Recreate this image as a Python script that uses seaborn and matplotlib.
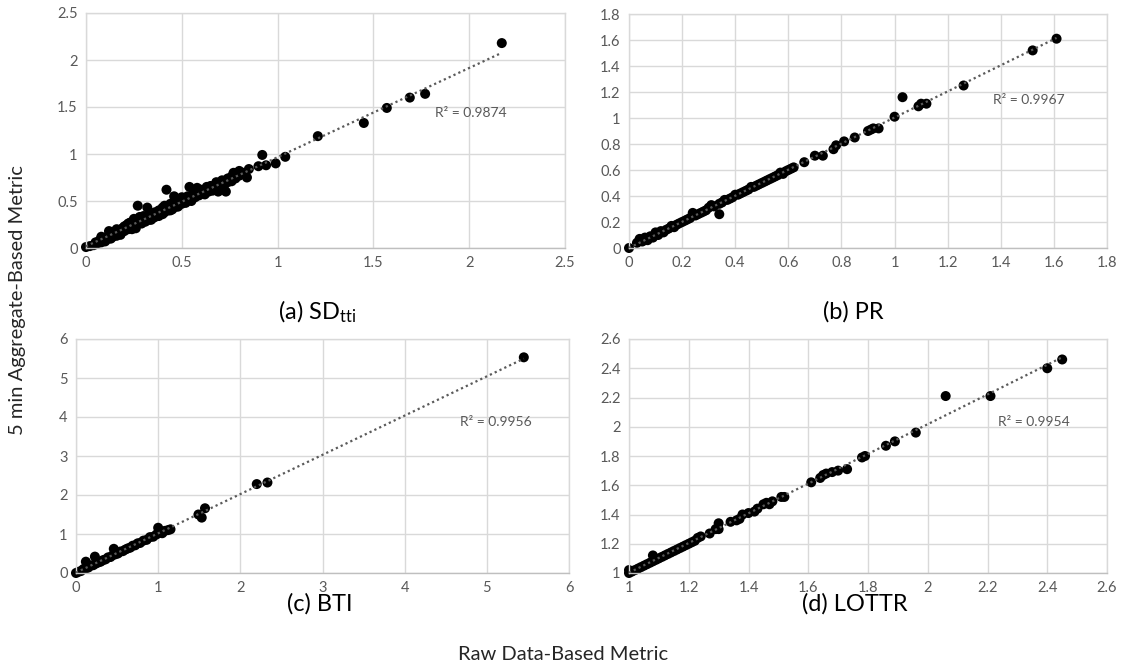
import numpy as np
import pandas as pd
import matplotlib
matplotlib.use("Agg")
import matplotlib.pyplot as plt
import seaborn as sns

# (a) SDtti
sd_raw = [0.00, 0.02, 0.04, 0.05, 0.06, 0.07, 0.08, 0.09, 0.10, 0.11, 0.12, 0.12, 0.13, 0.14,
          0.15, 0.16, 0.17, 0.18, 0.19, 0.20, 0.21, 0.22, 0.23, 0.24, 0.25, 0.26, 0.27, 0.27,
          0.28, 0.29, 0.30, 0.31, 0.32, 0.32, 0.33, 0.34, 0.35, 0.36, 0.37, 0.38, 0.39, 0.40,
          0.41, 0.42, 0.42, 0.43, 0.44, 0.45, 0.46, 0.46, 0.47, 0.48, 0.50, 0.51, 0.52, 0.53,
          0.54, 0.55, 0.56, 0.57, 0.58, 0.59, 0.60, 0.62, 0.63, 0.64, 0.65, 0.67, 0.68, 0.69,
          0.70, 0.71, 0.72, 0.73, 0.74, 0.76, 0.77, 0.78, 0.80, 0.82, 0.84, 0.85, 0.90, 0.92,
          0.94, 0.99, 1.04, 1.21, 1.45, 1.57, 1.69, 1.77, 2.17,
          0.08, 0.10, 0.14, 0.16, 0.18, 0.22, 0.26, 0.30, 0.34, 0.38, 0.40, 0.44, 0.48, 0.50,
          0.55, 0.58, 0.62, 0.66, 0.70, 0.74, 0.76, 0.80,
          0.13, 0.20, 0.24, 0.28, 0.36, 0.41, 0.45, 0.52]
sd_agg = [0.01, 0.02, 0.03, 0.06, 0.05, 0.08, 0.06, 0.10, 0.09, 0.12, 0.18, 0.10, 0.14, 0.12,
          0.16, 0.13, 0.19, 0.17, 0.21, 0.18, 0.24, 0.20, 0.27, 0.22, 0.31, 0.24, 0.45, 0.27,
          0.33, 0.26, 0.30, 0.28, 0.43, 0.33, 0.30, 0.36, 0.32, 0.38, 0.34, 0.40, 0.36, 0.43,
          0.38, 0.62, 0.44, 0.40, 0.47, 0.42, 0.55, 0.48, 0.44, 0.50, 0.47, 0.52, 0.49, 0.55,
          0.65, 0.52, 0.58, 0.54, 0.60, 0.56, 0.62, 0.58, 0.65, 0.60, 0.66, 0.63, 0.70, 0.60,
          0.68, 0.72, 0.66, 0.60, 0.74, 0.76, 0.80, 0.74, 0.82, 0.80, 0.75, 0.84, 0.87, 0.99,
          0.88, 0.90, 0.97, 1.19, 1.33, 1.49, 1.60, 1.64, 2.18,
          0.12, 0.07, 0.17, 0.20, 0.14, 0.26, 0.21, 0.34, 0.30, 0.34, 0.36, 0.40, 0.44, 0.54,
          0.50, 0.64, 0.57, 0.61, 0.65, 0.70, 0.71, 0.77,
          0.10, 0.23, 0.20, 0.32, 0.33, 0.45, 0.41, 0.48]

# (b) PR
pr_raw = [0.00, 0.03, 0.04, 0.05, 0.06, 0.07, 0.08, 0.09, 0.10, 0.11, 0.12, 0.13, 0.14, 0.15,
          0.16, 0.17, 0.18, 0.19, 0.20, 0.21, 0.22, 0.23, 0.24, 0.25, 0.26, 0.27, 0.28, 0.29,
          0.30, 0.31, 0.32, 0.34, 0.34, 0.35, 0.36, 0.37, 0.38, 0.39, 0.40, 0.41, 0.42, 0.43,
          0.44, 0.45, 0.46, 0.47, 0.48, 0.49, 0.50, 0.51, 0.52, 0.53, 0.54, 0.55, 0.56, 0.57,
          0.58, 0.59, 0.60, 0.61, 0.62, 0.66, 0.70, 0.73, 0.77, 0.78, 0.81, 0.85, 0.90, 0.91,
          0.92, 0.94, 1.00, 1.03, 1.09, 1.10, 1.12, 1.26, 1.52, 1.61]
pr_agg = [0.00, 0.04, 0.07, 0.05, 0.08, 0.06, 0.09, 0.08, 0.12, 0.10, 0.13, 0.12, 0.14, 0.15,
          0.17, 0.16, 0.18, 0.19, 0.20, 0.21, 0.22, 0.23, 0.27, 0.25, 0.26, 0.27, 0.28, 0.29,
          0.31, 0.33, 0.32, 0.26, 0.34, 0.35, 0.37, 0.37, 0.38, 0.39, 0.41, 0.41, 0.42, 0.43,
          0.44, 0.45, 0.47, 0.47, 0.48, 0.49, 0.50, 0.51, 0.52, 0.53, 0.54, 0.55, 0.56, 0.58,
          0.57, 0.59, 0.60, 0.61, 0.62, 0.66, 0.71, 0.71, 0.76, 0.79, 0.82, 0.85, 0.90, 0.91,
          0.92, 0.92, 1.01, 1.16, 1.09, 1.11, 1.11, 1.25, 1.52, 1.61]

# (c) BTI
bti_raw = [0.00, 0.03, 0.06, 0.09, 0.12, 0.12, 0.15, 0.18, 0.21, 0.23, 0.24, 0.27, 0.30, 0.33,
           0.36, 0.39, 0.42, 0.45, 0.46, 0.48, 0.51, 0.54, 0.57, 0.60, 0.63, 0.66, 0.69, 0.72,
           0.75, 0.78, 0.82, 0.86, 0.90, 0.94, 0.98, 1.00, 1.02, 1.05, 1.08, 1.12, 1.15, 1.49,
           1.53, 1.57, 2.20, 2.33, 5.45]
bti_agg = [0.00, 0.03, 0.05, 0.10, 0.29, 0.12, 0.14, 0.19, 0.20, 0.42, 0.24, 0.27, 0.29, 0.33,
           0.35, 0.40, 0.41, 0.46, 0.62, 0.48, 0.50, 0.55, 0.56, 0.60, 0.63, 0.65, 0.70, 0.71,
           0.76, 0.77, 0.83, 0.85, 0.92, 0.93, 0.99, 1.16, 1.03, 1.02, 1.08, 1.10, 1.12, 1.50,
           1.42, 1.66, 2.28, 2.32, 5.53]

# (d) LOTTR
lottr_raw = [1.00, 1.00, 1.01, 1.02, 1.03, 1.04, 1.05, 1.06, 1.07, 1.08, 1.08, 1.09, 1.10, 1.11,
             1.12, 1.13, 1.14, 1.15, 1.16, 1.17, 1.18, 1.19, 1.20, 1.21, 1.22, 1.23, 1.24, 1.27,
             1.29, 1.30, 1.30, 1.34, 1.36, 1.37, 1.38, 1.40, 1.42, 1.43, 1.45, 1.46, 1.47, 1.48,
             1.51, 1.52, 1.61, 1.64, 1.65, 1.66, 1.68, 1.70, 1.73, 1.78, 1.79, 1.86, 1.89, 1.96,
             2.06, 2.21, 2.40, 2.45]
lottr_agg = [1.00, 1.02, 1.01, 1.02, 1.03, 1.04, 1.05, 1.06, 1.07, 1.12, 1.08, 1.09, 1.10, 1.11,
             1.12, 1.13, 1.14, 1.15, 1.16, 1.17, 1.18, 1.19, 1.20, 1.21, 1.22, 1.24, 1.25, 1.27,
             1.30, 1.34, 1.30, 1.35, 1.36, 1.37, 1.40, 1.41, 1.42, 1.44, 1.47, 1.48, 1.47, 1.49,
             1.52, 1.52, 1.62, 1.65, 1.67, 1.68, 1.69, 1.70, 1.71, 1.79, 1.80, 1.87, 1.90, 1.96,
             2.21, 2.21, 2.40, 2.46]

panel_titles = ["(a) SD$_{\\mathrm{tti}}$", "(b) PR", "(c) BTI", "(d) LOTTR"]
r2_labels = ["R² = 0.9874", "R² = 0.9967", "R² = 0.9956", "R² = 0.9954"]

sns.set_theme(style="whitegrid")
plt.rcParams["font.family"] = ["Lato", "DejaVu Sans"]
plt.rcParams["mathtext.fontset"] = "custom"
plt.rcParams["mathtext.rm"] = "Lato"
plt.rcParams["mathtext.it"] = "Lato:italic"

W, H = 1121, 670
fig = plt.figure(figsize=(W / 100, H / 100), dpi=100)


def px_axes(left, top, right, bottom):
    return fig.add_axes([left / W, 1 - bottom / H, (right - left) / W, (bottom - top) / H])


panels = [
    (sd_raw, sd_agg, (86, 13, 565, 248), (0, 2.5, 0.5), (0, 2.5, 0.5), (1.82, 1.44), (317, 312)),
    (pr_raw, pr_agg, (629, 14, 1107, 248), (0, 1.8, 0.2), (0, 1.8, 0.2), (1.37, 1.14), (853, 312)),
    (bti_raw, bti_agg, (76, 339, 569, 573), (0, 6, 1), (0, 6, 1), (4.67, 3.87), (320, 604)),
    (lottr_raw, lottr_agg, (629, 339, 1107, 573), (1, 2.6, 0.2), (1, 2.6, 0.2), (2.235, 2.03), (855, 604)),
]

grid_c = "#d9d9d9"
for i, (xr, ya, box, xt, yt, r2pos, tpos) in enumerate(panels):
    ax = px_axes(*box)
    df = pd.DataFrame({"raw": xr, "agg": ya})
    sns.regplot(data=df, x="raw", y="agg", ax=ax, ci=None, truncate=True,
                scatter_kws=dict(s=52, color="black", edgecolor="none", alpha=1,
                                 zorder=2, clip_on=False),
                line_kws=dict(color="#5a5a5a", lw=1.6, linestyle=(0, (1, 1.4)), zorder=3))
    ax.set_xlim(xt[0], xt[1])
    ax.set_ylim(yt[0], yt[1])
    ax.set_xticks(np.round(np.arange(xt[0], xt[1] + 1e-9, xt[2]), 2))
    ax.set_yticks(np.round(np.arange(yt[0], yt[1] + 1e-9, yt[2]), 2))
    ax.xaxis.set_major_formatter(matplotlib.ticker.FuncFormatter(lambda v, p: f"{v:g}"))
    ax.yaxis.set_major_formatter(matplotlib.ticker.FuncFormatter(lambda v, p: f"{v:g}"))
    ax.set_xlabel("")
    ax.set_ylabel("")
    ax.grid(True, color=grid_c, lw=1.0)
    ax.set_facecolor("white")
    for s in ax.spines.values():
        s.set_color(grid_c)
        s.set_linewidth(1.0)
    ax.spines["bottom"].set_color("#bfbfbf")
    ax.tick_params(length=0, labelsize=10.5, colors="#595959", pad=6)
    ax.text(r2pos[0], r2pos[1], r2_labels[i], fontsize=10, color="#595959",
            ha="left", va="center")
    fig.text(tpos[0] / W, 1 - tpos[1] / H, panel_titles[i], fontsize=17,
             ha="center", va="center", color="black")

fig.text(18 / W, 1 - 300 / H, "5 min Aggregate-Based Metric", rotation=90,
         fontsize=14.5, ha="center", va="center")
fig.text(563 / W, 1 - 655 / H, "Raw Data-Based Metric", fontsize=14.5,
         ha="center", va="center")

fig.savefig("out.png", dpi=100, facecolor="white")
